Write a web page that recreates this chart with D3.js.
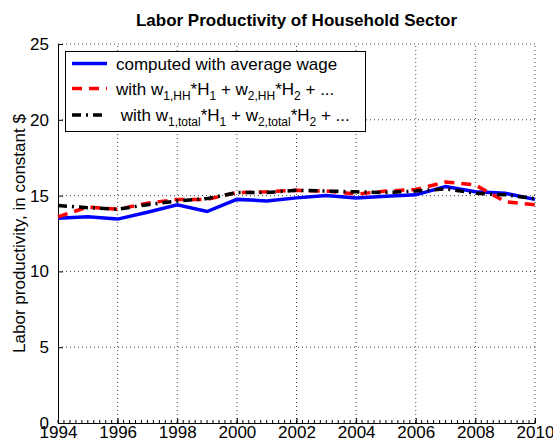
<!DOCTYPE html>
<html>
<head>
<meta charset="utf-8">
<script src="https://cdn.jsdelivr.net/npm/d3@7"></script>
<style>
	body { margin: 0; background: #fff; }
	svg text { font-family: "Liberation Sans", Arial, Helvetica, sans-serif; }
</style>
</head>
<body>
<div id="grafica"></div>
<script>
// datos
var years = [1994, 1995, 1996, 1997, 1998, 1999, 2000, 2001, 2002, 2003, 2004, 2005, 2006, 2007, 2008, 2009, 2010];
var avgWage = [13.5, 13.6, 13.45, 13.9, 14.4, 13.95, 14.75, 14.65, 14.85, 15.0, 14.85, 14.95, 15.05, 15.6, 15.25, 15.15, 14.75];
var wageHH = [13.6, 14.25, 14.1, 14.5, 14.75, 14.75, 15.2, 15.25, 15.35, 15.3, 15.1, 15.3, 15.4, 15.9, 15.7, 14.6, 14.4];
var wageTotal = [14.35, 14.2, 14.1, 14.4, 14.65, 14.8, 15.2, 15.2, 15.35, 15.3, 15.25, 15.2, 15.3, 15.45, 15.15, 15.05, 14.8];
var xTicks = [1994, 1996, 1998, 2000, 2002, 2004, 2006, 2008, 2010];
var yTicks = [0, 5, 10, 15, 20, 25];

var series = [
	{ name: 'avg', values: avgWage, color: '#0000ff', dash: null },
	{ name: 'hh', values: wageHH, color: '#ff0000', dash: '10,7' },
	{ name: 'total', values: wageTotal, color: '#000000', dash: '9,5,2,5' }
];

var W = 553, H = 443;
var m = {t: 44, r: 18, b: 20, l: 58};

var svg = d3.select('#grafica').append('svg')
	.attr('width', W)
	.attr('height', H)
	.style('display', 'block');

var x = d3.scaleLinear().domain([1994, 2010]).range([m.l, W - m.r]);
var y = d3.scaleLinear().domain([0, 25]).range([H - m.b, m.t]);

// rejilla punteada
var grid = svg.append('g');
grid.selectAll('.gx').data(xTicks.slice(1)).enter().append('line')
	.attr('x1', function(d) { return x(d); })
	.attr('x2', function(d) { return x(d); })
	.attr('y1', y(0)).attr('y2', y(25))
	.attr('stroke', '#444').attr('stroke-width', 1)
	.attr('stroke-dasharray', '1,3');
grid.selectAll('.gy').data(yTicks.slice(1)).enter().append('line')
	.attr('x1', x(1994)).attr('x2', x(2010))
	.attr('y1', function(d) { return y(d); })
	.attr('y2', function(d) { return y(d); })
	.attr('stroke', '#444').attr('stroke-width', 1)
	.attr('stroke-dasharray', '1,3');

// ejes
var xAxis = d3.axisBottom(x).tickValues(xTicks).tickFormat(d3.format('d'))
	.tickSizeInner(-5).tickSizeOuter(0).tickPadding(3);
var gx = svg.append('g')
	.attr('transform', 'translate(0,' + y(0) + ')')
	.call(xAxis);

var minor = d3.range(1994, 2010.01, 0.2);
gx.selectAll('.minor').data(minor).enter().append('line')
	.attr('class', 'minor')
	.attr('x1', function(d) { return x(d); })
	.attr('x2', function(d) { return x(d); })
	.attr('y1', 0).attr('y2', -3)
	.attr('stroke', '#000');

var yAxis = d3.axisLeft(y).tickValues(yTicks)
	.tickSizeInner(-5).tickSizeOuter(0).tickPadding(9);
var gy = svg.append('g')
	.attr('transform', 'translate(' + x(1994) + ',0)')
	.call(yAxis);

svg.selectAll('.domain').attr('stroke', '#000');
svg.selectAll('.tick line').attr('stroke', '#000');
svg.selectAll('.tick text')
	.attr('fill', '#000')
	.style('font-size', '17px');

// lineas
var line = d3.line()
	.x(function(d, i) { return x(years[i]); })
	.y(function(d) { return y(d); });

svg.selectAll('.serie').data(series).enter().append('path')
	.attr('class', 'serie')
	.attr('fill', 'none')
	.attr('stroke', function(d) { return d.color; })
	.attr('stroke-width', 3.5)
	.attr('stroke-dasharray', function(d) { return d.dash; })
	.attr('d', function(d) { return line(d.values); });

// titulo y etiqueta
svg.append('text')
	.attr('x', (x(1994) + x(2010)) / 2)
	.attr('y', 26)
	.attr('text-anchor', 'middle')
	.style('font-size', '17px')
	.style('font-weight', 'bold')
	.text('Labor Productivity of Household Sector');

svg.append('text')
	.attr('transform', 'translate(25,' + ((y(0) + y(25)) / 2) + ') rotate(-90)')
	.attr('text-anchor', 'middle')
	.style('font-size', '17px')
	.text('Labor productivity, in constant $');

// leyenda
var leg = svg.append('g');
leg.append('rect')
	.attr('x', 65.5).attr('y', 51.5)
	.attr('width', 300).attr('height', 80)
	.attr('fill', '#fff').attr('stroke', '#000');

var legY = [63.5, 88.5, 115];
var legText = [
	[['computed with average wage', 0]],
	[['with w', 0], ['1,HH', 1], ['*H', 0], ['1', 1], [' + w', 0], ['2,HH', 1], ['*H', 0], ['2', 1], [' + ...', 0]],
	[['\u00a0with w', 0], ['1,total', 1], ['*H', 0], ['1', 1], [' + w', 0], ['2,total', 1], ['*H', 0], ['2', 1], [' + ...', 0]]
];

series.forEach(function(s, i) {
	leg.append('line')
		.attr('x1', 72).attr('x2', 107)
		.attr('y1', legY[i]).attr('y2', legY[i])
		.attr('stroke', s.color)
		.attr('stroke-width', 3.5)
		.attr('stroke-dasharray', s.dash);

	var t = leg.append('text')
		.attr('x', 116)
		.attr('y', legY[i] + 6)
		.style('font-size', '17px')
		.attr('xml:space', 'preserve');
	var prevSub = 0;
	legText[i].forEach(function(p) {
		var dy = p[1] === prevSub ? 0 : (p[1] ? 5 : -5);
		t.append('tspan')
			.attr('dy', dy)
			.style('font-size', p[1] ? '12px' : '17px')
			.text(p[0]);
		prevSub = p[1];
	});
});
</script>
</body>
</html>
